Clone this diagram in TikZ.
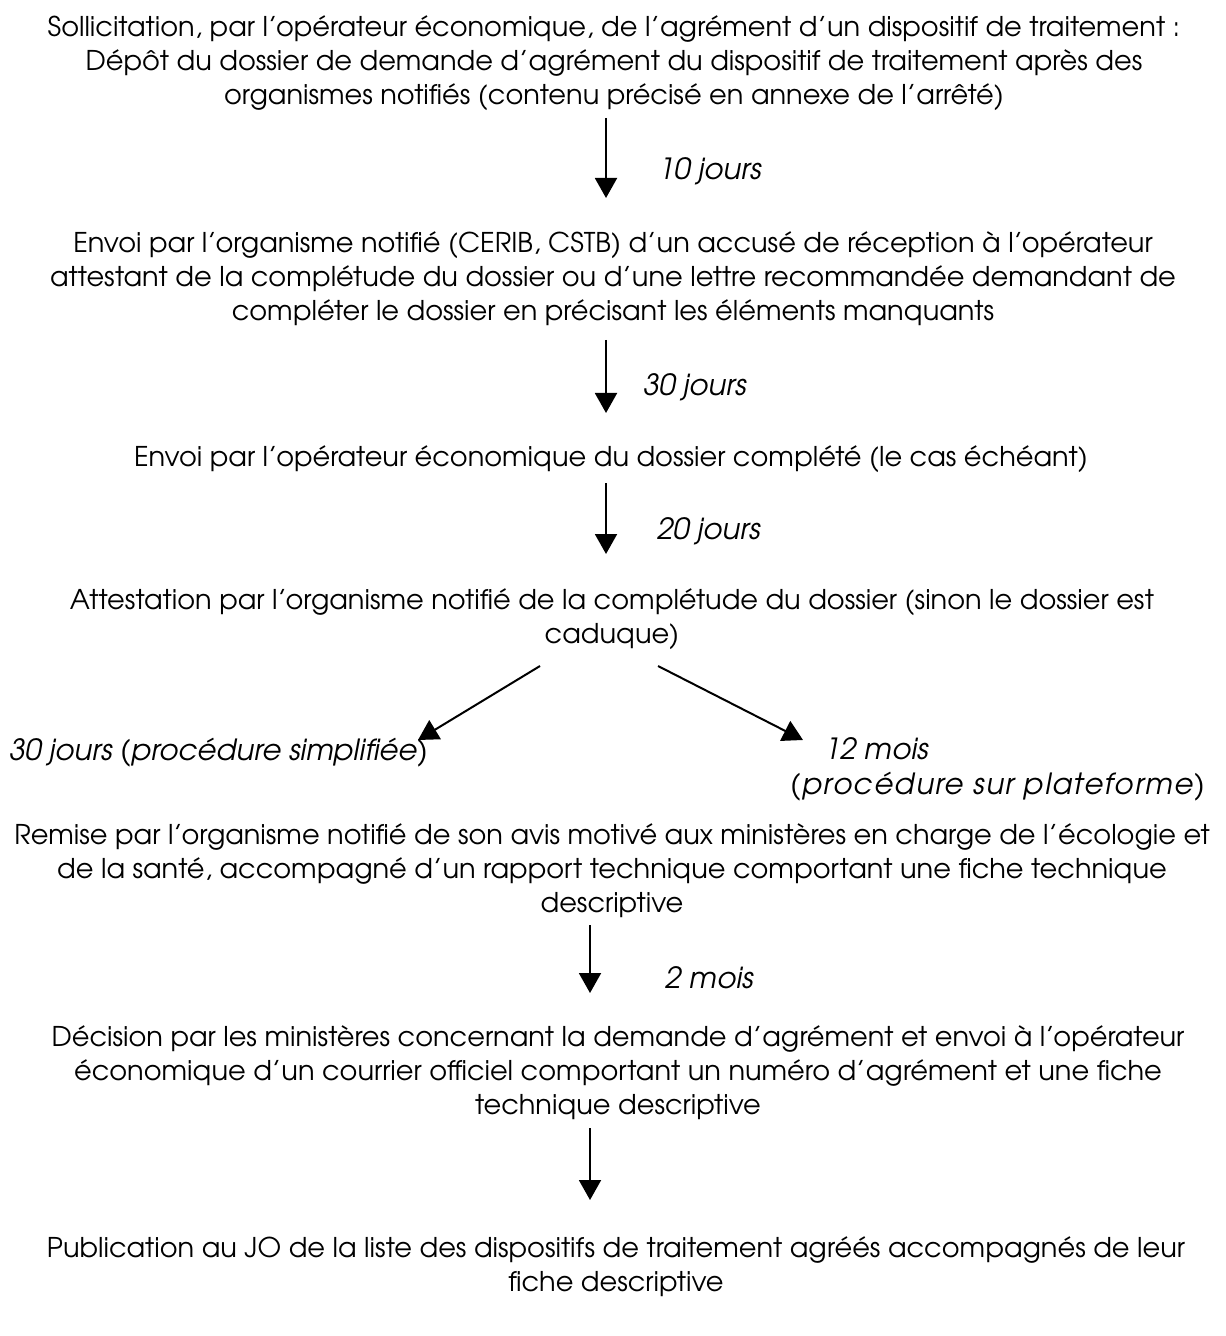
\documentclass[tikz,border=0pt]{standalone}
\usepackage{fontspec}
\setmainfont{TeX Gyre Adventor}
\usetikzlibrary{arrows.meta}
\begin{document}
\begin{tikzpicture}[x=0.5pt,y=-0.5pt,
  txt/.style={align=center,inner sep=0pt,font=\fontsize{13.6}{17}\selectfont},
  lbl/.style={inner sep=0pt,font=\fontsize{14.6}{17.5}\selectfont\itshape},
  arr/.style={line width=1pt,-{Triangle[length=10pt,width=11pt]}}]
\useasboundingbox (0,0) rectangle (1225,1336);
\node[txt] (b1) at (614,63) {Sollicitation, par l’opérateur économique, de l’agrément d’un dispositif de traitement :\\Dépôt du dossier de demande d’agrément du dispositif de traitement après des\\organismes notifiés (contenu précisé en annexe de l’arrêté)};
\node[txt] (b2) at (613,279) {Envoi par l’organisme notifié (CERIB, CSTB) d’un accusé de réception à l’opérateur\\attestant de la complétude du dossier ou d’une lettre recommandée demandant de\\compléter le dossier en précisant les éléments manquants};
\node[txt] (b3) at (611,459) {Envoi par l’opérateur économique du dossier complété (le cas échéant)};
\node[txt] (b4) at (612,619) {Attestation par l’organisme notifié de la complétude du dossier (sinon le dossier est\\caduque)};
\node[txt] (b5) at (612,871) {Remise par l’organisme notifié de son avis motivé aux ministères en charge de l’écologie et\\de la santé, accompagné d’un rapport technique comportant une fiche technique\\descriptive};
\node[txt] (b6) at (618,1073) {Décision par les ministères concernant la demande d’agrément et envoi à l’opérateur\\économique d’un courrier officiel comportant un numéro d’agrément et une fiche\\technique descriptive};
\node[txt] (b7) at (616,1267) {Publication au JO de la liste des dispositifs de traitement agréés accompagnés de leur\\fiche descriptive};
% labels
\node[lbl,anchor=west] (l1) at (658,171) {10 jours};
\node[lbl,anchor=west] (l2) at (643,387) {30 jours};
\node[lbl,anchor=west] (l3) at (657,531) {20 jours};
\node[lbl,anchor=west] (l4) at (9,753) {30 jours (procédure simplifiée)};
\node[lbl,anchor=north west,align=left] (l5) at (790,737) {\hspace*{17pt}12 mois\\{\addfontfeature{LetterSpace=5}(procédure sur plateforme)}};
\node[lbl,anchor=west] (l6) at (665,978) {2 mois};
% connector coordinates
\coordinate (a1s) at (606,118); \coordinate (a1e) at (606,198);
\coordinate (a2s) at (606,340); \coordinate (a2e) at (606,413);
\coordinate (a3s) at (606,483); \coordinate (a3e) at (606,554);
\coordinate (a4s) at (540,666); \coordinate (a4e) at (418,740);
\coordinate (a5s) at (658,666); \coordinate (a5e) at (803,740);
\coordinate (a6s) at (590,925); \coordinate (a6e) at (590,993);
\coordinate (a7s) at (590,1128); \coordinate (a7e) at (590,1200);
\draw[arr] (a1s) -- (a1e);
\draw[arr] (a2s) -- (a2e);
\draw[arr] (a3s) -- (a3e);
\draw[arr] (a4s) -- (a4e);
\draw[arr] (a5s) -- (a5e);
\draw[arr] (a6s) -- (a6e);
\draw[arr] (a7s) -- (a7e);
\end{tikzpicture}
\end{document}
